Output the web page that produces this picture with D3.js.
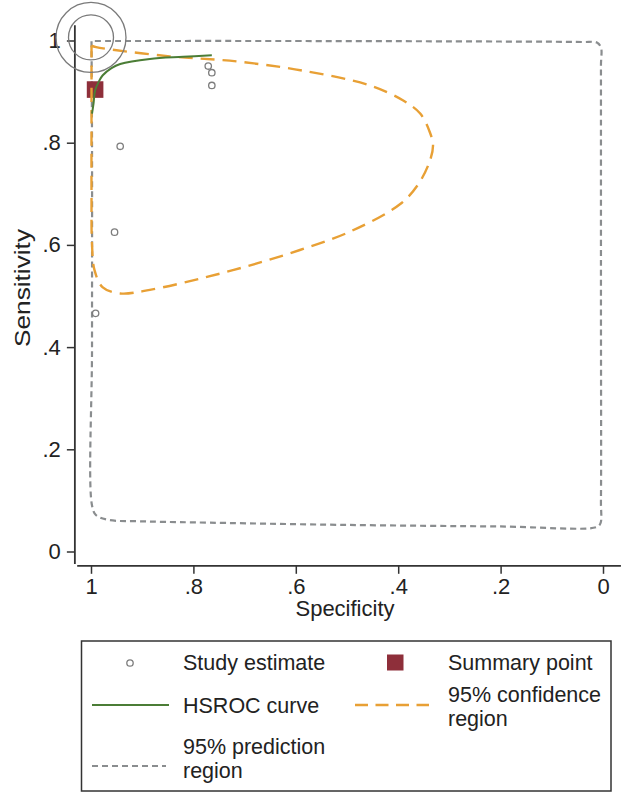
<!DOCTYPE html>
<html>
<head>
<meta charset="utf-8">
<script src="https://cdn.jsdelivr.net/npm/d3@7"></script>
<style>
  body { margin: 0; background: #fff; }
  text { font-family: "Liberation Sans", Arial, sans-serif; fill: #222; }
</style>
</head>
<body>
<div id="chart"></div>
<script>
//************* data (specificity, sensitivity) ***************/
var studySpec = [0.771, 0.764, 0.764, 0.943, 0.954, 0.991];
var studySens = [0.950, 0.937, 0.912, 0.793, 0.625, 0.466];

var summarySpec = 0.992, summarySens = 0.904;

var hsrocSpec = [0.998, 0.995, 0.992, 0.984, 0.977, 0.960, 0.943, 0.885, 0.820, 0.764];
var hsrocSens = [0.857, 0.877, 0.902, 0.921, 0.932, 0.946, 0.954, 0.964, 0.968, 0.971];

var confSpec = [0.999, 0.990, 0.846, 0.715, 0.586, 0.455, 0.391, 0.357, 0.338, 0.332, 0.338, 0.360, 0.396, 0.494, 0.592, 0.689, 0.787, 0.885, 0.943, 0.977, 0.993, 0.998, 0.999, 0.999, 0.999];
var confSens = [0.990, 0.987, 0.969, 0.959, 0.941, 0.912, 0.883, 0.857, 0.820, 0.795, 0.765, 0.720, 0.680, 0.626, 0.590, 0.560, 0.534, 0.512, 0.505, 0.517, 0.550, 0.600, 0.700, 0.850, 0.990];

var predSpec = [0.999, 0.600, 0.200, 0.040, 0.012, 0.004, 0.004, 0.004, 0.004, 0.005, 0.012, 0.200, 0.500, 0.800, 0.900, 0.967, 0.990, 0.998, 0.998, 0.998, 0.999];
var predSens = [0.999, 0.999, 0.998, 0.997, 0.996, 0.986, 0.950, 0.500, 0.100, 0.055, 0.048, 0.049, 0.052, 0.057, 0.059, 0.062, 0.071, 0.090, 0.400, 0.800, 0.999];

var specTicks = [1, 0.8, 0.6, 0.4, 0.2, 0];
var sensTicks = [1, 0.8, 0.6, 0.4, 0.2, 0];
var tickLabels = ["1", ".8", ".6", ".4", ".2", "0"];

//************* setup svg ***************/
var width = 633, height = 798;
var svg = d3.select("#chart").append("svg")
    .attr("width", width).attr("height", height);

var x = d3.scaleLinear().domain([1, 0]).range([91, 603]);
var y = d3.scaleLinear().domain([0, 1]).range([551.5, 40.5]);

function pts(a, b) { return a.map(function(d, i) { return [d, b[i]]; }); }

var axisColor = "#333";

// axis lines
svg.append("line")
    .attr("x1", x(1.0315)).attr("x2", x(1.0315))
    .attr("y1", y(1.03)).attr("y2", y(-0.0245))
    .attr("stroke", axisColor).attr("stroke-width", 1.8);
svg.append("line")
    .attr("x1", x(1.027)).attr("x2", x(-0.035))
    .attr("y1", y(-0.028)).attr("y2", y(-0.028))
    .attr("stroke", axisColor).attr("stroke-width", 1.8);

// y ticks
var yAxis = d3.axisLeft(y).tickValues(sensTicks)
    .tickFormat(function(d, i) { return tickLabels[i]; })
    .tickSize(8).tickSizeOuter(0).tickPadding(6);
var gy = svg.append("g").attr("transform", "translate(" + x(1.0315) + ",0)").call(yAxis);
gy.select(".domain").remove();
gy.selectAll(".tick line").attr("stroke", axisColor).attr("stroke-width", 1.5);
gy.selectAll(".tick text").style("font-size", "22px")
    .style("font-family", "Liberation Sans, Arial, sans-serif").attr("fill", "#222");

// x ticks
var xAxis = d3.axisBottom(x).tickValues(specTicks)
    .tickFormat(function(d, i) { return tickLabels[i]; })
    .tickSize(8).tickSizeOuter(0).tickPadding(5);
var gx = svg.append("g").attr("transform", "translate(0," + y(-0.028) + ")").call(xAxis);
gx.select(".domain").remove();
gx.selectAll(".tick line").attr("stroke", axisColor).attr("stroke-width", 1.5);
gx.selectAll(".tick text").style("font-size", "22px")
    .style("font-family", "Liberation Sans, Arial, sans-serif").attr("fill", "#222");

// axis titles
svg.append("text")
    .attr("x", 345).attr("y", 616)
    .attr("text-anchor", "middle")
    .style("font-size", "22px")
    .text("Specificity");
svg.append("text")
    .attr("transform", "translate(30,288) rotate(-90)")
    .attr("text-anchor", "middle")
    .attr("textLength", 118).attr("lengthAdjust", "spacingAndGlyphs")
    .style("font-size", "22px")
    .text("Sensitivity");

//************* marks ***************/
var line = d3.line()
    .x(function(d) { return x(d[0]); })
    .y(function(d) { return y(d[1]); });

var grayC = "#8a8d8f", orangeC = "#e8a035", greenC = "#4b7d36", maroonC = "#8e2f3a";

// prediction region
svg.append("path")
    .attr("d", line.curve(d3.curveCatmullRomClosed.alpha(0.5))(pts(predSpec, predSens)))
    .attr("fill", "none").attr("stroke", grayC)
    .attr("stroke-width", 2.2).attr("stroke-dasharray", "6,4");

// study estimates
svg.append("g").selectAll("circle")
    .data(pts(studySpec, studySens))
    .enter().append("circle")
    .attr("cx", function(d) { return x(d[0]); })
    .attr("cy", function(d) { return y(d[1]); })
    .attr("r", 3.2)
    .attr("fill", "none").attr("stroke", "#7d7d7d").attr("stroke-width", 1.3);

// summary point
svg.append("rect")
    .attr("x", x(summarySpec) - 8.3).attr("y", y(summarySens) - 8.3)
    .attr("width", 16.6).attr("height", 16.6)
    .attr("fill", maroonC);

// confidence region
svg.append("path")
    .attr("d", line.curve(d3.curveCatmullRom.alpha(0.5))(pts(confSpec, confSens)))
    .attr("fill", "none").attr("stroke", orangeC)
    .attr("stroke-width", 2.4).attr("stroke-dasharray", "14,8");

// HSROC curve
svg.append("path")
    .attr("d", line.curve(d3.curveCatmullRom.alpha(0.5))(pts(hsrocSpec, hsrocSens)))
    .attr("fill", "none").attr("stroke", greenC).attr("stroke-width", 2);

// highlight rings around the top-left corner
[22.5, 35].forEach(function(r) {
  svg.append("circle")
      .attr("cx", x(1)).attr("cy", y(1.006)).attr("r", r)
      .attr("fill", "none").attr("stroke", "#7a7a7a").attr("stroke-width", 1.3);
});

//************* legend ***************/
var lg = svg.append("g");
lg.append("rect")
    .attr("x", 81.5).attr("y", 641).attr("width", 529.5).attr("height", 150)
    .attr("fill", "#fff").attr("stroke", "#333").attr("stroke-width", 1.5);

lg.append("circle").attr("cx", 130).attr("cy", 663).attr("r", 3.2)
    .attr("fill", "none").attr("stroke", "#7d7d7d").attr("stroke-width", 1.3);
lg.append("rect").attr("x", 387).attr("y", 654.5).attr("width", 16.5).attr("height", 16)
    .attr("fill", maroonC);
lg.append("line").attr("x1", 92).attr("x2", 169).attr("y1", 705).attr("y2", 705)
    .attr("stroke", greenC).attr("stroke-width", 2);
lg.append("line").attr("x1", 355).attr("x2", 429).attr("y1", 705).attr("y2", 705)
    .attr("stroke", orangeC).attr("stroke-width", 2.4).attr("stroke-dasharray", "13,7.5");
lg.append("line").attr("x1", 92).attr("x2", 166).attr("y1", 766).attr("y2", 766)
    .attr("stroke", grayC).attr("stroke-width", 2.2).attr("stroke-dasharray", "6,4");

// each entry: x, baseline of first line, lines
var legendText = [
  [183, 670, ["Study estimate"]],
  [448, 670, ["Summary point"]],
  [183, 713, ["HSROC curve"]],
  [448, 702, ["95% confidence", "region"]],
  [183, 754, ["95% prediction", "region"]]
];
var lt = lg.selectAll("text.lt").data(legendText).enter().append("text")
    .attr("class", "lt")
    .attr("x", function(d) { return d[0]; })
    .attr("y", function(d) { return d[1]; })
    .style("font-size", "21.5px");
lt.selectAll("tspan")
    .data(function(d) { return d[2].map(function(s) { return [d[0], s]; }); })
    .enter().append("tspan")
    .attr("x", function(d) { return d[0]; })
    .attr("dy", function(d, i) { return i === 0 ? 0 : 24.2; })
    .text(function(d) { return d[1]; });
</script>
</body>
</html>
